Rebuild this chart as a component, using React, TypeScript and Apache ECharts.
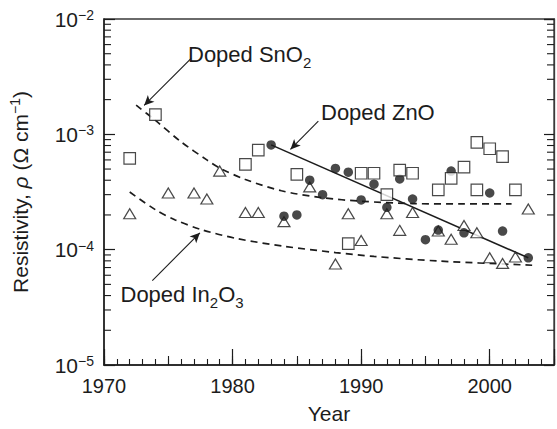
import React, { useEffect, useRef } from 'react';
import * as echarts from 'echarts';

const FONT = '"Liberation Sans", Arial, Helvetica, sans-serif';
const INK = '#1c1c1c';

// Open squares (Doped SnO2)
const squareYears = [1972, 1974, 1981, 1982, 1985, 1989, 1990, 1991, 1992, 1993, 1994, 1996, 1997, 1998, 1999, 1999, 2000, 2001, 2002];
const squareValues = [6.2e-4, 1.48e-3, 5.5e-4, 7.3e-4, 4.5e-4, 1.13e-4, 4.6e-4, 4.6e-4, 3.0e-4, 4.9e-4, 4.6e-4, 3.3e-4, 4.15e-4, 5.2e-4, 8.5e-4, 3.3e-4, 7.5e-4, 6.4e-4, 3.3e-4];

// Filled circles (Doped ZnO)
const circleYears = [1983, 1984, 1985, 1986, 1987, 1988, 1989, 1990, 1991, 1992, 1993, 1994, 1995, 1996, 1997, 1998, 2000, 2001, 2003];
const circleValues = [8.1e-4, 1.95e-4, 2.0e-4, 4.0e-4, 3.0e-4, 5.06e-4, 4.7e-4, 2.7e-4, 3.7e-4, 2.33e-4, 4.1e-4, 2.75e-4, 1.22e-4, 1.48e-4, 4.8e-4, 1.4e-4, 3.1e-4, 1.45e-4, 8.5e-5];

// Open triangles (Doped In2O3)
const triangleYears = [1972, 1975, 1977, 1978, 1979, 1981, 1982, 1984, 1986, 1988, 1989, 1990, 1992, 1993, 1994, 1996, 1997, 1998, 1999, 2000, 2001, 2002, 2003];
const triangleValues = [2.05e-4, 3.1e-4, 3.1e-4, 2.75e-4, 4.8e-4, 2.1e-4, 2.1e-4, 1.75e-4, 3.5e-4, 7.5e-5, 2.05e-4, 1.2e-4, 2.05e-4, 1.47e-4, 2.1e-4, 1.45e-4, 1.23e-4, 1.62e-4, 1.4e-4, 8.5e-5, 7.6e-5, 8.65e-5, 2.25e-4];

// Trend curves
const snCurveYears = [1972.5, 1974, 1976, 1978, 1979, 1981, 1983.8, 1987, 1990, 1994, 1998, 2001.7];
const snCurveValues = [1.79e-3, 1.32e-3, 8.6e-4, 6.0e-4, 5.1e-4, 4.06e-4, 3.24e-4, 2.82e-4, 2.63e-4, 2.51e-4, 2.49e-4, 2.49e-4];

const inCurveYears = [1972, 1974, 1975.5, 1977.6, 1980.3, 1984, 1988, 1991, 1996, 2003.3];
const inCurveValues = [3.16e-4, 2.22e-4, 1.82e-4, 1.49e-4, 1.25e-4, 1.07e-4, 9.44e-5, 8.74e-5, 7.97e-5, 7.33e-5];

const znLineYears = [1983, 2003];
const znLineValues = [8.1e-4, 8.5e-5];

// Axis ticks
const yMinorTicks = [
  2e-5, 3e-5, 4e-5, 5e-5, 6e-5, 7e-5, 8e-5, 9e-5,
  2e-4, 3e-4, 4e-4, 5e-4, 6e-4, 7e-4, 8e-4, 9e-4,
  2e-3, 3e-3, 4e-3, 5e-3, 6e-3, 7e-3, 8e-3, 9e-3,
];

// Annotation arrows: [tailYear, tailValue, headYear, headValue]
const arrowSn = [1976.78, 4.55e-3, 1973.12, 1.78e-3];
const arrowZn = [1986.67, 1.3e-3, 1984.5, 7.4e-4];
const arrowIn = [1973.76, 5.4e-5, 1977.46, 1.4e-4];

const zip = (xs: number[], ys: number[]) => xs.map((x, i) => [x, ys[i]]);

export default function App() {
  const ref = useRef<HTMLDivElement>(null);
  useEffect(() => {
    document.body.style.margin = '0';
    const chart = echarts.init(ref.current!, null, { renderer: 'svg' });
    const arrow = (a: number[]) => [
      { coord: [a[0], a[1]], symbol: 'none' },
      { coord: [a[2], a[3]], symbol: 'arrow', symbolSize: [7, 10] },
    ];
    const option: any = {
      animation: false,
      backgroundColor: '#fff',
      grid: {
        left: 99, right: 1.5, top: 19, bottom: 62,
        show: true, borderColor: '#3a3a3a', borderWidth: 1.3, backgroundColor: 'transparent',
      },
      xAxis: [
        {
          type: 'value', min: 1970, max: 2005, interval: 10, position: 'bottom',
          name: 'Year', nameLocation: 'middle', nameGap: 38,
          nameTextStyle: { fontSize: 21, fontFamily: FONT, color: INK },
          axisLine: { show: true, onZero: false, lineStyle: { color: INK, width: 1.5 } },
          axisTick: { show: true, inside: true, length: 16, lineStyle: { color: INK, width: 1.2 } },
          axisLabel: {
            fontSize: 20, fontFamily: FONT, color: INK, margin: 11,
            formatter: (v: number) => (v % 10 === 0 ? String(v) : ''),
          },
          splitLine: { show: false },
        },
        {
          type: 'value', min: 1970, max: 2005, interval: 5, position: 'bottom',
          axisLine: { show: false },
          axisTick: { show: true, inside: true, length: 9, lineStyle: { color: INK, width: 1.1 } },
          axisLabel: { show: false },
          splitLine: { show: false },
        },
        {
          type: 'value', min: 1970, max: 2005, interval: 1, position: 'bottom',
          axisLine: { show: false },
          axisTick: { show: true, inside: true, length: 6, lineStyle: { color: INK, width: 1.1 } },
          axisLabel: { show: false },
          splitLine: { show: false },
        },
      ],
      yAxis: [
        {
          type: 'log', logBase: 10, min: 1e-5, max: 1e-2, position: 'left',
          name: 'Resistivity, {i|ρ} (Ω cm{s|−1})',
          nameLocation: 'middle', nameRotate: 90, nameGap: 72,
          nameTextStyle: {
            fontSize: 21, fontFamily: FONT, color: INK,
            rich: {
              i: { fontSize: 21, fontFamily: FONT, color: INK, fontStyle: 'italic' },
              s: { fontSize: 14, fontFamily: FONT, color: INK, padding: [0, 0, 10, 0] },
            },
          },
          axisLine: { show: true, onZero: false, lineStyle: { color: INK, width: 1.5 } },
          axisTick: { show: true, inside: true, length: 11, lineStyle: { color: INK, width: 1.2 } },
          axisLabel: {
            margin: 10,
            formatter: (v: number) => {
              const e = Math.round(Math.log10(v));
              return `{b|10}{s|−${Math.abs(e)}}`;
            },
            rich: {
              b: { fontSize: 21, fontFamily: FONT, color: INK },
              s: { fontSize: 14, fontFamily: FONT, color: INK, padding: [0, 0, 8, 0] },
            },
          },
          splitLine: { show: false },
        },
        {
          type: 'log', logBase: 10, min: 1e-5, max: 1e-2, position: 'right',
          axisLine: { show: true, onZero: false, lineStyle: { color: '#3a3a3a', width: 1.3 } },
          axisTick: { show: true, inside: true, length: 10, lineStyle: { color: INK, width: 1.2 } },
          axisLabel: { show: false },
          splitLine: { show: false },
        },
      ],
      graphic: [
        {
          type: 'text', x: 188, y: 54, z: 100,
          style: {
            text: 'Doped SnO{s|2}', fill: INK, fontSize: 22, fontFamily: FONT,
            align: 'left', verticalAlign: 'middle',
            rich: { s: { fontSize: 15, fontFamily: FONT, fill: INK, padding: [16, 0, 0, 0] } },
          },
        },
        {
          type: 'text', x: 321, y: 112.5, z: 100,
          style: {
            text: 'Doped ZnO', fill: INK, fontSize: 22, fontFamily: FONT,
            align: 'left', verticalAlign: 'middle',
          },
        },
        {
          type: 'text', x: 120.5, y: 294, z: 100,
          style: {
            text: 'Doped In{s|2}O{s|3}', fill: INK, fontSize: 22, fontFamily: FONT,
            align: 'left', verticalAlign: 'middle',
            rich: { s: { fontSize: 15, fontFamily: FONT, fill: INK, padding: [16, 0, 0, 0] } },
          },
        },
      ],
      series: [
        {
          type: 'custom', silent: true, z: 5,
          data: yMinorTicks.map((v) => [1970, v]),
          renderItem: (params: any, api: any) => {
            const cs = params.coordSys;
            const y = api.coord([1970, api.value(1)])[1];
            const st = { stroke: INK, lineWidth: 1.1 };
            return {
              type: 'group',
              children: [
                { type: 'line', shape: { x1: cs.x, y1: y, x2: cs.x + 7, y2: y }, style: st },
                { type: 'line', shape: { x1: cs.x + cs.width - 7, y1: y, x2: cs.x + cs.width, y2: y }, style: st },
              ],
            };
          },
        },
        {
          type: 'line', data: zip(snCurveYears, snCurveValues), smooth: 0.3, showSymbol: false, silent: true,
          lineStyle: { color: INK, width: 1.7, type: [7, 5] }, z: 2,
        },
        {
          type: 'line', data: zip(inCurveYears, inCurveValues), smooth: 0.3, showSymbol: false, silent: true,
          lineStyle: { color: INK, width: 1.7, type: [7, 5] }, z: 2,
        },
        {
          type: 'line', data: zip(znLineYears, znLineValues), showSymbol: false, silent: true,
          lineStyle: { color: INK, width: 1.6, type: 'solid' }, z: 2,
          markLine: {
            silent: true, symbol: ['none', 'arrow'], symbolSize: [7, 10],
            lineStyle: { color: INK, width: 1.1, type: 'solid' },
            itemStyle: { color: INK },
            label: { show: false }, emphasis: { disabled: true },
            data: [arrow(arrowSn), arrow(arrowZn), arrow(arrowIn)],
          },
        },
        {
          type: 'scatter', data: zip(triangleYears, triangleValues), symbol: 'triangle', symbolSize: [12, 10],
          itemStyle: { color: '#fff', borderColor: INK, borderWidth: 1.2 }, z: 3, silent: true,
        },
        {
          type: 'scatter', data: zip(circleYears, circleValues), symbol: 'circle', symbolSize: 9.5,
          itemStyle: { color: INK }, z: 4, silent: true,
        },
        {
          type: 'scatter', data: zip(squareYears, squareValues), symbol: 'rect', symbolSize: 11.5,
          itemStyle: { color: '#fff', borderColor: INK, borderWidth: 1.2 }, z: 4, silent: true,
        },
      ],
    };
    chart.setOption(option);
    return () => chart.dispose();
  }, []);
  return <div ref={ref} style={{ position: 'absolute', left: 0, top: 0, width: 557, height: 429 }} />;
}
